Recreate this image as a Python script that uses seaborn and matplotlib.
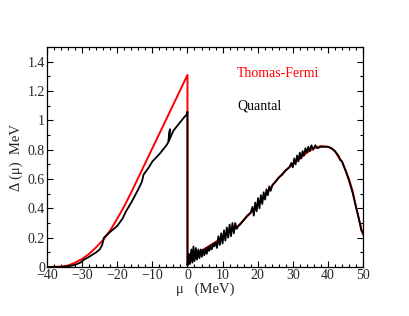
import pandas as pd
import seaborn as sns
import matplotlib.pyplot as plt
from matplotlib.ticker import MultipleLocator

# Thomas-Fermi curve (red)
tf_x = [-40, -36, -34, -32, -30, -28, -26, -24, -22, -20, -18, -16, -14, -12, -10,
        -8, -6, -4, -2, 0, 0, 2, 4, 6, 8, 10, 12, 14, 16, 18, 20, 22, 24, 26, 28,
        30, 32, 34, 36, 38, 40, 41, 42, 43, 44, 45, 46, 47, 48, 49, 50]
tf_y = [0.0, 0.003, 0.01, 0.03, 0.055, 0.09, 0.135, 0.185, 0.25, 0.33, 0.415, 0.51, 0.61, 0.71, 0.81,
        0.91, 1.01, 1.11, 1.21, 1.31, 0.02, 0.06, 0.11, 0.14, 0.17, 0.21, 0.24, 0.27, 0.32, 0.37, 0.42,
        0.48, 0.55, 0.61, 0.66, 0.70, 0.74, 0.78, 0.81, 0.825, 0.82, 0.81, 0.79, 0.75, 0.72, 0.66,
        0.60, 0.52, 0.41, 0.31, 0.22]

# Quantal curve (black)
qu_x = [-40, -36, -34, -32, -30.5, -29.5, -28, -26, -25, -24.3, -23.8, -22, -20, -18.5, -17.5,
        -16, -14, -13, -12.5, -11, -10, -8, -6, -5.5, -5.0, -5.3, -4, -2, -1, -0.2, 0,
        0, 0.4, 0.7, 1.1, 1.4, 1.7, 2.0, 2.4, 2.7, 3.1, 3.4, 3.8, 4.1, 4.5, 4.8, 5.2, 5.5, 5.9,
        6.2, 6.6, 6.9, 7.3, 7.6, 8.0, 8.4, 8.8, 9.2, 9.6, 10.0, 10.4, 10.8, 11.2, 11.6, 12.0,
        12.4, 12.8, 13.2, 13.6, 14.0, 14.5, 15, 16, 17, 18, 18.5, 18.9, 19.3, 19.7, 20.1, 20.5,
        20.9, 21.3, 21.7, 22.1, 22.5, 22.9, 23.3, 23.7, 24.2, 25, 26, 27, 28, 29, 29.6, 30.0,
        30.4, 30.8, 31.2, 31.6, 32.0, 32.4, 32.8, 33.2, 33.6, 34.0, 34.4, 34.8, 35.3, 35.8,
        36.4, 37.0, 38, 39, 40, 41, 42, 43, 43.5, 44, 45, 46, 47, 48, 49, 49.5, 50]
qu_y = [0.0, 0.0, 0.005, 0.015, 0.03, 0.05, 0.07, 0.10, 0.12, 0.15, 0.20, 0.24, 0.28, 0.33, 0.38,
        0.44, 0.53, 0.58, 0.63, 0.68, 0.72, 0.77, 0.83, 0.85, 0.94, 0.86, 0.93, 0.99, 1.02, 1.04, 1.06,
        0.01, 0.09, 0.02, 0.12, 0.03, 0.14, 0.04, 0.13, 0.05, 0.12, 0.06, 0.12, 0.07, 0.12, 0.08,
        0.13, 0.09, 0.14, 0.11, 0.15, 0.12, 0.16, 0.14, 0.17, 0.13, 0.21, 0.15, 0.23, 0.16, 0.25,
        0.18, 0.27, 0.20, 0.29, 0.21, 0.30, 0.23, 0.30, 0.26, 0.28, 0.29, 0.32, 0.35, 0.37, 0.41,
        0.35, 0.44, 0.38, 0.47, 0.40, 0.49, 0.43, 0.51, 0.46, 0.53, 0.49, 0.55, 0.52, 0.56, 0.58,
        0.61, 0.63, 0.66, 0.68, 0.71, 0.68, 0.74, 0.70, 0.76, 0.72, 0.78, 0.74, 0.79, 0.76, 0.81,
        0.78, 0.82, 0.79, 0.83, 0.80, 0.83, 0.81, 0.82, 0.82, 0.82, 0.81, 0.79, 0.76, 0.73, 0.72,
        0.66, 0.59, 0.51, 0.41, 0.31, 0.25, 0.23]

tf = pd.DataFrame({'mu': tf_x, 'delta': tf_y})
qu = pd.DataFrame({'mu': qu_x, 'delta': qu_y})

sns.set_theme(style="ticks")
plt.rcParams['font.family'] = ['Liberation Serif', 'DejaVu Serif']
plt.rcParams['xtick.direction'] = 'in'
plt.rcParams['ytick.direction'] = 'in'

fig = plt.figure(figsize=(4.09, 3.16), dpi=100)
ax = fig.add_axes([0.115, 0.155, 0.7726, 0.696])

sns.lineplot(data=tf, x='mu', y='delta', sort=False, estimator=None, color='red', lw=1.4, ax=ax)
sns.lineplot(data=qu, x='mu', y='delta', sort=False, estimator=None, color='black', lw=1.3, ax=ax)

ax.set_xlim(-40, 50)
ax.set_ylim(0, 1.5)
ax.xaxis.set_major_locator(MultipleLocator(10))
ax.xaxis.set_minor_locator(MultipleLocator(2))
ax.yaxis.set_minor_locator(MultipleLocator(0.1))
ax.set_yticks([0, 0.2, 0.4, 0.6, 0.8, 1.0, 1.2, 1.4])
ax.set_yticklabels(['0', '0.2', '0.4', '0.6', '0.8', '1', '1.2', '1.4'])
ax.tick_params(which='both', top=True, right=True, labelsize=10, pad=1.5, width=0.8, color='black')
ax.tick_params(which='major', length=4)
ax.tick_params(which='minor', length=2.5)
for s in ax.spines.values():
    s.set_linewidth(0.9)
    s.set_color('black')

ax.set_xlabel('μ   (MeV)', fontsize=10.5, labelpad=0)
ax.set_ylabel('Δ (μ)  MeV', fontsize=10.5, labelpad=3)

ax.text(14.1, 1.318, 'Thomas-Fermi', color='red', fontsize=10, va='center')
ax.text(14.1, 1.10, 'Quantal', color='black', fontsize=10, va='center')

fig.savefig('out.png', dpi=100)
